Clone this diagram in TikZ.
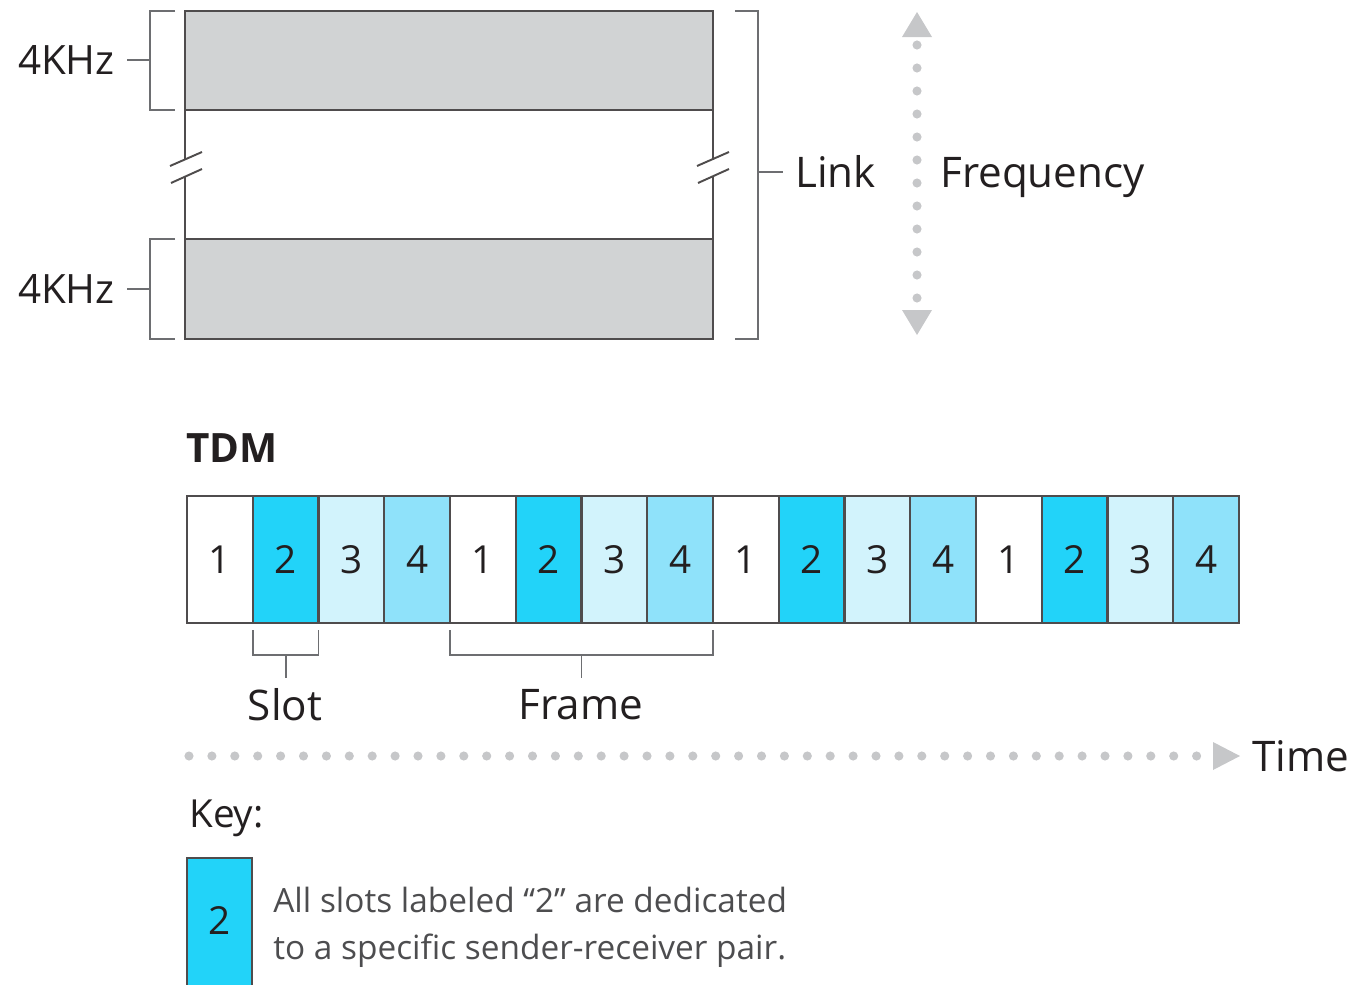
\documentclass[tikz,border=0pt]{standalone}
\usepackage{fontspec}
\setmainfont{Open Sans}
\usetikzlibrary{positioning, arrows.meta, calc}

\definecolor{bandgray}{HTML}{D1D3D4}
\definecolor{slotc1}{HTML}{FFFFFF}
\definecolor{slotc2}{HTML}{22D3F9}
\definecolor{slotc3}{HTML}{D2F3FC}
\definecolor{slotc4}{HTML}{8FE2FA}
\definecolor{dotgray}{HTML}{C6C7C9}
\definecolor{bracegray}{HTML}{6D6E71}
\definecolor{inkblack}{HTML}{231F20}
\definecolor{keytext}{HTML}{4D4D4F}

\tikzset{
    band/.style={draw=inkblack!80, line width=1.4pt, fill=bandgray},
    edge/.style={draw=inkblack!80, line width=1.4pt},
    brace/.style={draw=bracegray, line width=1.1pt},
    slotbox/.style={draw=inkblack!80, line width=1.2pt, outer sep=0pt, inner sep=0pt,
        minimum width=37.42pt, minimum height=72.3pt, text=inkblack,
        font=\fontsize{22}{26}\selectfont},
    bigtext/.style={text=inkblack, inner sep=0pt, font=\fontsize{24}{28}\selectfont},
    keytxt/.style={text=keytext, inner sep=0pt, font=\fontsize{19}{26}\selectfont}
}

\begin{document}
\begin{tikzpicture}[x=0.02cm, y=-0.02cm]
    \useasboundingbox (0,0) rectangle (1349,984);

    % FDM bands
    \draw[band] (185,11) rectangle (713,110);
    \draw[band] (185,239) rectangle (713,339);
    \draw[edge] (185,110) -- (185,160) (185,176) -- (185,239);
    \draw[edge] (713,110) -- (713,160) (713,176) -- (713,239);
    \draw[brace, inkblack!80] (170,166) -- (202,152) (171,183) -- (202,169);
    \draw[brace, inkblack!80] (697,166) -- (729,152) (698,183) -- (729,169);

    % 4KHz brackets
    \coordinate (ta) at (127,60);
    \coordinate (tb) at (127,289);
    \node[bigtext, anchor=east, font=\fontsize{23}{26}\selectfont] (khza) at (115,60) {4KHz};
    \node[bigtext, anchor=east, font=\fontsize{23}{26}\selectfont] (khzb) at (115,289) {4KHz};
    \draw[brace] (175,11) -- (150,11) -- (150,110) -- (175,110);
    \draw[brace] (175,239) -- (150,239) -- (150,339) -- (175,339);
    \draw[brace] (150,60) -- (ta);
    \draw[brace] (150,289) -- (tb);

    % link bracket
    \coordinate (tl) at (783,172);
    \node[bigtext, anchor=base west] (link) at (795,187) {Link};
    \draw[brace] (735,11) -- (758,11) -- (758,339) -- (735,339);
    \draw[brace] (758,172) -- (tl);

    % frequency axis
    \foreach \y in {45,68,...,300}
        \fill[dotgray] (917,\y) circle (2.6pt);
    \fill[dotgray] (917,12) -- (932,37) -- (902,37) -- cycle;
    \fill[dotgray] (917,335) -- (932,310) -- (902,310) -- cycle;
    \node[bigtext, anchor=base west] (freq) at (940,187) {Frequency};

    % TDM slots
    \node[bigtext, anchor=west, font=\fontsize{23}{28}\selectfont\bfseries] (tdm) at (186,448) {TDM};
    \node[slotbox, fill=slotc1] (s1) at (219.9,559.5) {1};
    \foreach \i in {2,...,16}{
        \pgfmathtruncatemacro{\prev}{\i-1}
        \pgfmathtruncatemacro{\num}{mod(\i-1,4)+1}
        \node[slotbox, fill=slotc\num, right=0pt of s\prev] (s\i) {\num};
    }

    % slot and frame brackets
    \node[bigtext] (slot) at (285,705) {Slot};
    \node[bigtext] (frame) at (581,705) {Frame};
    \coordinate (sa) at ($(s2.south)+(0,55)$);
    \coordinate (fa) at ($(s5.south east)!0.5!(s8.south west)+(0,55)$);
    \draw[brace] ($(s2.south west)+(0,7)$) -- ($(s2.south west)+(0,32)$)
        -- ($(s2.south east)+(0,32)$) -- ($(s2.south east)+(0,7)$);
    \draw[brace] ($(s2.south)+(0,32)$) -- (sa);
    \draw[brace] ($(s5.south west)+(0,7)$) -- ($(s5.south west)+(0,32)$)
        -- ($(s8.south east)+(0,32)$) -- ($(s8.south east)+(0,7)$);
    \draw[brace] ($(s5.south east)!0.5!(s8.south west)+(0,32)$) -- (fa);

    % time axis
    \foreach \i in {0,...,44}
        \fill[dotgray] (189+\i*22.9,756) circle (2.6pt);
    \fill[dotgray] (1213,742) -- (1240,756) -- (1213,770) -- cycle;
    \node[bigtext, anchor=west] (time) at (1252,756) {Time};

    % key
    \node[bigtext, anchor=west, font=\fontsize{22}{26}\selectfont] (key) at (189,818) {Key:};
    \draw[draw=inkblack!80, line width=1.2pt, fill=slotc2] (187,995) -- (187,858) -- (252,858) -- (252,995);
    \node[slotbox, draw=none, minimum height=0pt] (k2) at (219.5,920) {2};
    \node[keytxt, anchor=base west] (keya) at (273,912) {All slots labeled “2” are dedicated};
    \node[keytxt, anchor=base west] (keyb) at (273,959) {to a specific sender-receiver pair.};
\end{tikzpicture}
\end{document}
